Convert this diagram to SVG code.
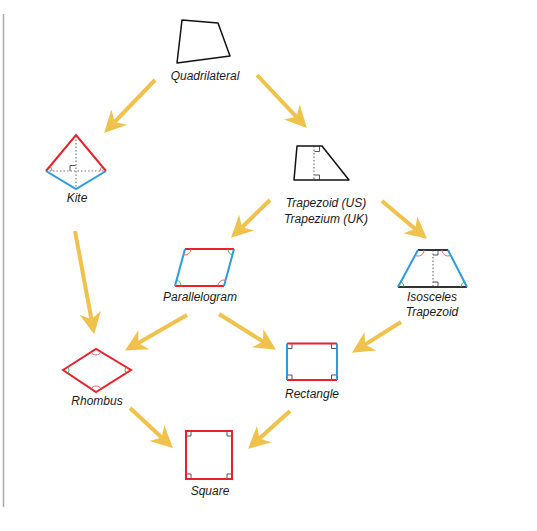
<svg xmlns="http://www.w3.org/2000/svg" width="537" height="531" viewBox="0 0 537 531">
<defs>
<marker id="ah" markerUnits="userSpaceOnUse" markerWidth="24" markerHeight="24" viewBox="0 -11 22 22" refX="6" refY="0" orient="auto">
<path d="M0,-10 L20,0 L0,10 L6,0 z" fill="#F0C24B"/>
</marker>
</defs>
<style>
.lbl{font-family:"Liberation Sans",Arial,sans-serif;font-style:italic;font-size:12px;fill:#1a1a1a;text-anchor:middle}
.conn{stroke:#F0C24B;stroke-width:4;fill:none;marker-end:url(#ah)}
.blk{stroke:#111;stroke-width:1.5;fill:none;stroke-linejoin:round}
.red{stroke:#E8212B;stroke-width:2;fill:none}
.blue{stroke:#2A9BE0;stroke-width:2;fill:none}
.dark{stroke:#333;stroke-width:2;fill:none}
.dot{stroke:#777;stroke-width:1.2;stroke-dasharray:1.5 2;fill:none}
.ra{stroke:#555;stroke-width:1;fill:none}
.ared{stroke:#F0606A;stroke-width:1;fill:none}
.agrn{stroke:#3DB54A;stroke-width:1;fill:none}
</style>
<rect width="537" height="531" fill="#fff"/>
<line x1="3.5" y1="14" x2="3.5" y2="507" stroke="#aaa" stroke-width="1.5"/>

<g id="connectors">
<line class="conn" x1="155" y1="80" x2="114.7" y2="121.9"/>
<line class="conn" x1="257" y1="75" x2="296.4" y2="116.8"/>
<line class="conn" x1="75" y1="231" x2="91.4" y2="319.2"/>
<line class="conn" x1="270" y1="200" x2="242" y2="227.2"/>
<line class="conn" x1="382" y1="201" x2="415.3" y2="229"/>
<line class="conn" x1="187" y1="315" x2="138.2" y2="343"/>
<line class="conn" x1="219" y1="314" x2="263.1" y2="341.6"/>
<line class="conn" x1="401" y1="322" x2="364.9" y2="344.6"/>
<line class="conn" x1="130" y1="408" x2="161.7" y2="437.5"/>
<line class="conn" x1="290" y1="411" x2="259.4" y2="438.6"/>
</g>

<g id="quadrilateral">
<path class="blk" d="M182,20 L218,23 L230,56 L177,63 Z"/>
<text class="lbl" x="205" y="80">Quadrilateral</text>
</g>

<g id="kite">
<line class="dot" x1="76" y1="136" x2="76" y2="189"/>
<line class="dot" x1="46" y1="171" x2="106" y2="171"/>
<path class="ra" d="M70,171 V165.5 H75.5"/>
<path class="red" d="M46,171 L76,135 L106,171"/>
<path class="blue" d="M46,171 L76,189 L106,171"/>
<path class="ared" d="M49.9,166.4 A6,6 0 0,1 52,171"/>
<path class="ared" d="M102.1,166.4 A6,6 0 0,0 100,171"/>
<text class="lbl" x="77" y="202">Kite</text>
</g>

<g id="trapezoid">
<line class="dot" x1="314" y1="146" x2="314" y2="180"/>
<path class="ra" d="M314.5,151.5 H319.5 V146"/>
<path class="ra" d="M314.5,175 H319.5 V180"/>
<path class="blk" d="M297,146 L322,146 L349,180 L294,180 Z"/>
<text class="lbl" x="326" y="207">Trapezoid (US)</text>
<text class="lbl" x="326" y="223">Trapezium (UK)</text>
</g>

<g id="parallelogram">
<path class="red" d="M185,249 H234 M175,286 H224"/>
<path class="blue" d="M185,249 L175,286 M234,249 L224,286"/>
<path class="ared" d="M191,249 A6,6 0 0,1 183.4,254.8"/>
<path class="agrn" d="M228,249 A6,6 0 0,0 232.4,254.8"/>
<path class="agrn" d="M181,286 A6,6 0 0,0 176.6,280.2"/>
<path class="ared" d="M218,286 A6,6 0 0,1 225.6,280.2"/>
<text class="lbl" x="200" y="301">Parallelogram</text>
</g>

<g id="isosceles-trapezoid">
<line class="dot" x1="433" y1="250" x2="433" y2="287"/>
<path class="ra" d="M433,255 H438 V250"/>
<path class="ra" d="M433,282 H438 V287"/>
<path class="dark" d="M418,250 H448 M398,287 H467"/>
<path class="blue" d="M418,250 L398,287 M448,250 L467,287"/>
<path class="ared" d="M424,250 A6,6 0 0,1 415.1,255.3"/>
<path class="ared" d="M442,250 A6,6 0 0,0 450.7,255.3"/>
<path class="agrn" d="M404,287 A6,6 0 0,0 400.9,281.7"/>
<path class="agrn" d="M461,287 A6,6 0 0,1 464.3,281.7"/>
<text class="lbl" x="432" y="301">Isosceles</text>
<text class="lbl" x="432" y="316">Trapezoid</text>
</g>

<g id="rhombus">
<path class="red" d="M63,370 L96,349 L131,370 L96,392 Z"/>
<path class="ared" d="M90.9,352.2 A6,6 0 0,0 101.1,352.1"/>
<path class="ared" d="M91,388.7 A6,6 0 0,1 101.1,388.8"/>
<path class="agrn" d="M68.1,366.8 A6,6 0 0,1 68,373.3"/>
<path class="agrn" d="M125.9,366.9 A6,6 0 0,0 125.9,373.2"/>
<text class="lbl" x="97" y="405">Rhombus</text>
</g>

<g id="rectangle">
<path class="ra" d="M287,348.5 H292 V343.5 M331.5,343.5 V348.5 H337 M287,375 H292 V380 M337,375 H331.5 V380"/>
<path class="red" d="M287,343.5 H337 M287,380 H337"/>
<path class="blue" d="M287,343.5 V380 M337,343.5 V380"/>
<text class="lbl" x="312" y="398">Rectangle</text>
</g>

<g id="square">
<path class="ra" d="M186,436 H191 V431 M227,431 V436 H232 M186,474 H191 V479 M232,474 H227 V479"/>
<rect class="red" x="186" y="431" width="46" height="48"/>
<text class="lbl" x="210" y="495">Square</text>
</g>
</svg>
